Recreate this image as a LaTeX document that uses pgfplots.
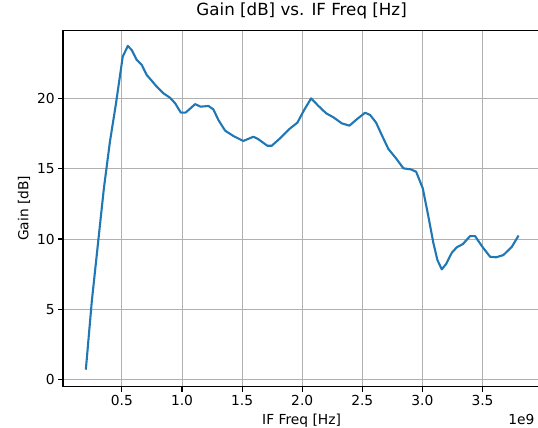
\documentclass[border=0pt]{standalone}
\usepackage{fontspec}
\setmainfont{DejaVu Sans}
\usepackage{pgfplots}
\pgfplotsset{compat=1.18}
\definecolor{mplblue}{RGB}{31,119,180}
\definecolor{mplgrid}{RGB}{176,176,176}
\begin{document}
\begin{tikzpicture}
\begin{axis}[
  name=ax,
  at={(0,0)}, anchor=south west,
  scale only axis, width=477.2pt, height=356.6pt,
  xmin=0.01, xmax=3.98, ymin=-0.51, ymax=24.87,
  xtick={0.5,1,1.5,2,2.5,3,3.5},
  xticklabels={0.5,1.0,1.5,2.0,2.5,3.0,3.5},
  ytick={0,5,10,15,20},
  tick align=outside, xtick pos=left, ytick pos=left,
  major tick length=4.9pt,
  every tick/.style={black, line width=1.1pt},
  grid=major, grid style={mplgrid, line width=1.0pt},
  axis line style={black, line width=1.1pt},
  ticklabel style={font=\fontsize{13.8}{16}\selectfont, text=black},
  /pgf/number format/assume math mode=true,
  title={Gain [dB] vs. IF Freq [Hz]},
  title style={font=\fontsize{16.7}{20}\selectfont, at={(axis description cs:0.5,1)}, anchor=base, yshift=8.5pt},
  xlabel={IF Freq [Hz]}, ylabel={Gain [dB]},
  every axis x label/.style={at={(axis description cs:0.5,0)}, anchor=base, yshift=-38pt, font=\fontsize{13.8}{16}\selectfont},
  every axis y label/.style={at={(axis description cs:-0.0723,0.5)}, rotate=90, anchor=base, font=\fontsize{13.8}{16}\selectfont},
]
\addplot[mplblue, line width=2.1pt, line join=round] coordinates {
(0.20,0.7) (0.25,5.6) (0.30,9.6) (0.35,13.6) (0.40,16.9) (0.45,19.6)
(0.507,22.98) (0.549,23.74) (0.582,23.45) (0.624,22.74) (0.666,22.38)
(0.707,21.67) (0.75,21.25) (0.79,20.84) (0.845,20.37) (0.90,20.06)
(0.943,19.66) (0.99,19.0) (1.03,19.0) (1.07,19.3) (1.109,19.6)
(1.156,19.42) (1.22,19.47) (1.261,19.23) (1.303,18.47) (1.359,17.71)
(1.428,17.33) (1.51,16.98) (1.594,17.28) (1.636,17.1) (1.71,16.64)
(1.747,16.64) (1.816,17.17) (1.90,17.88) (1.96,18.28) (2.016,19.18)
(2.074,20.01) (2.135,19.47) (2.199,18.95) (2.26,18.66) (2.33,18.23)
(2.393,18.07) (2.454,18.52) (2.523,18.99) (2.565,18.83) (2.615,18.28)
(2.662,17.4) (2.717,16.41) (2.781,15.74) (2.842,15.03) (2.903,14.96)
(2.948,14.79) (3.003,13.61) (3.05,11.59) (3.092,9.69) (3.125,8.5)
(3.161,7.84) (3.197,8.22) (3.245,9.03) (3.286,9.41) (3.336,9.64)
(3.397,10.21) (3.438,10.21) (3.502,9.41) (3.563,8.74) (3.613,8.7)
(3.674,8.86) (3.744,9.45) (3.80,10.25)
};
\end{axis}
\node[anchor=base east, font=\fontsize{13.8}{16}\selectfont] at (475pt,-38pt) {1e9};
\pgfresetboundingbox
\useasboundingbox (-63pt,-41.3pt) rectangle (475pt,386.7pt);
\end{tikzpicture}
\end{document}
